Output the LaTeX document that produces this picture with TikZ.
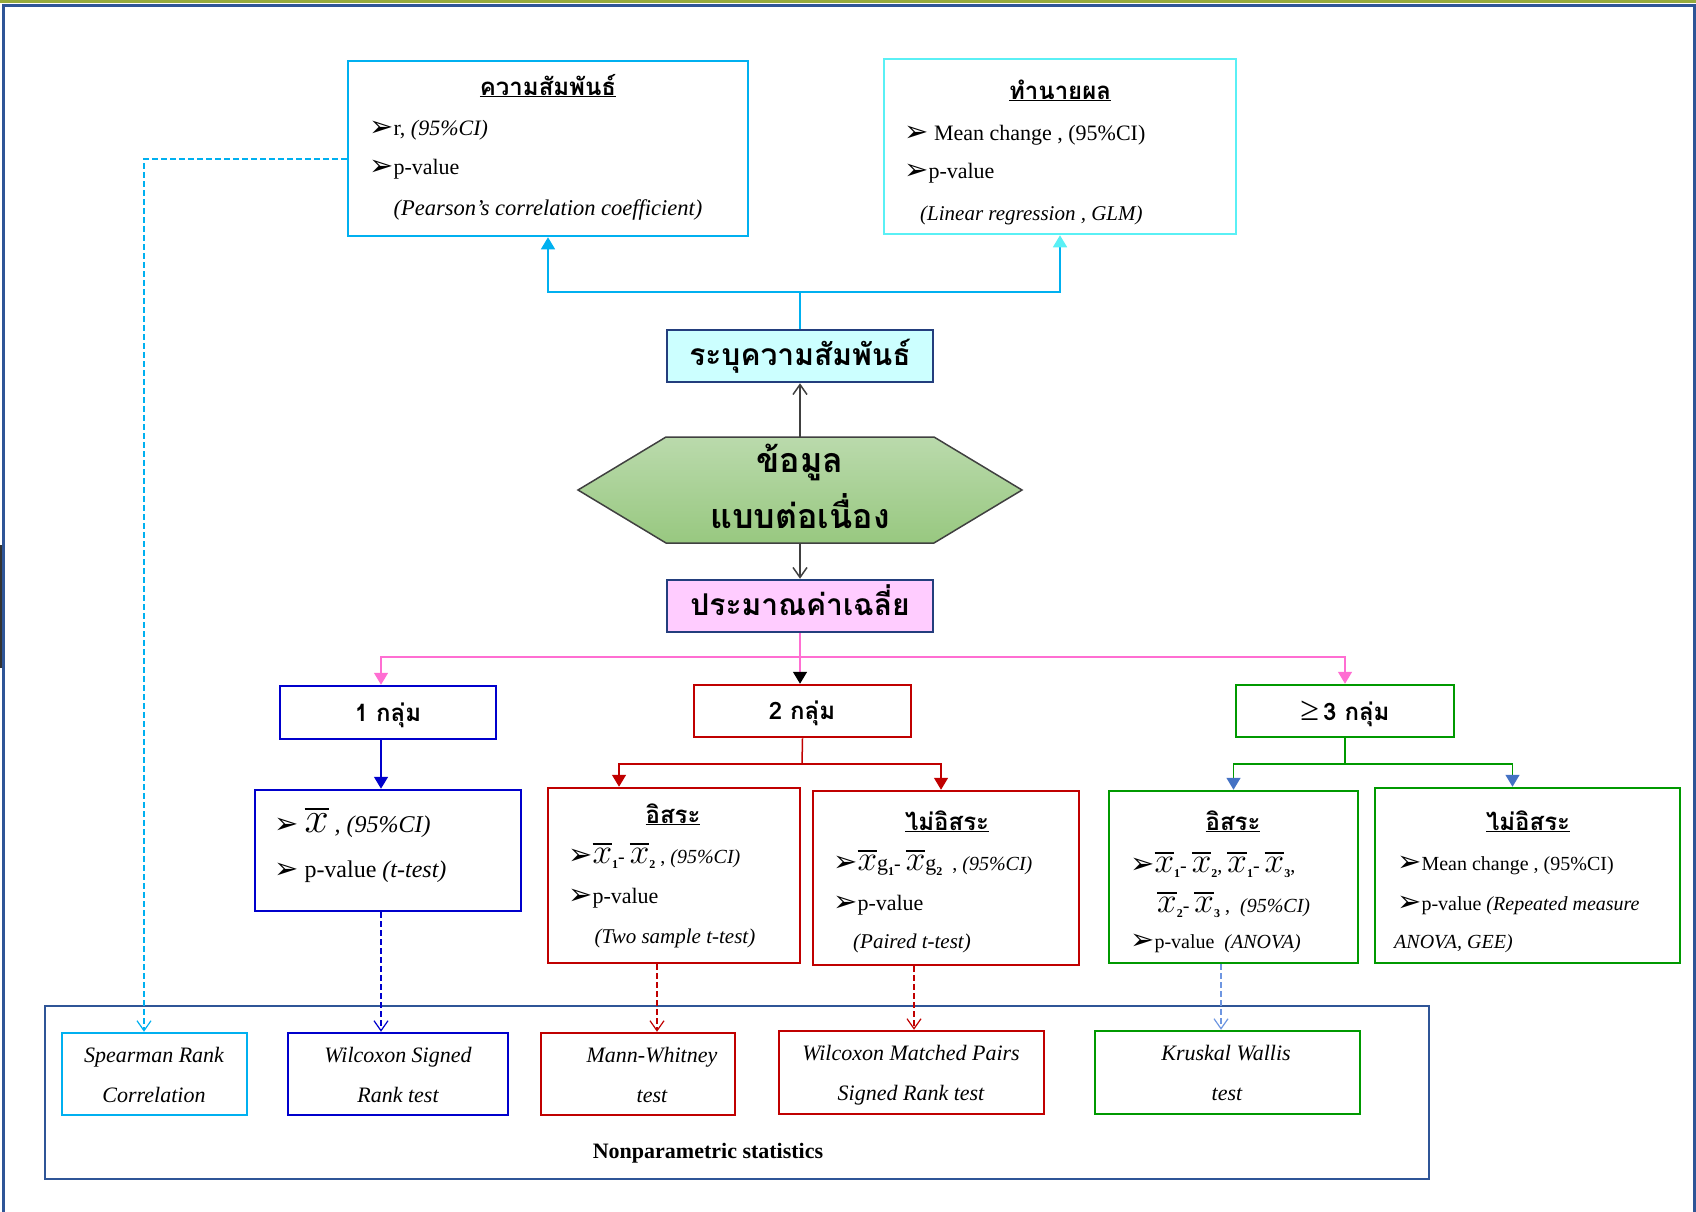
\documentclass[tikz,border=0pt]{standalone}
\usepackage{fontspec}
\usepackage{graphicx}
\setmainfont{Liberation Serif}
\newfontfamily\thai[Script=Thai]{Loma}
\newfontfamily\sym{DejaVu Sans}
\usetikzlibrary{arrows.meta,calc}

\definecolor{cyA}{RGB}{0,176,240}
\definecolor{cyB}{RGB}{90,240,245}
\definecolor{navy}{RGB}{47,85,151}
\definecolor{navyd}{RGB}{35,62,125}
\definecolor{cyfill}{RGB}{204,255,255}
\definecolor{pkfill}{RGB}{255,204,255}
\definecolor{pk}{RGB}{255,110,210}
\definecolor{bl}{RGB}{0,0,204}
\definecolor{rd}{RGB}{192,0,0}
\definecolor{gr}{RGB}{0,153,0}
\definecolor{ab}{RGB}{68,114,196}
\definecolor{kwb}{RGB}{110,150,225}
\definecolor{hexT}{RGB}{186,218,172}
\definecolor{hexB}{RGB}{152,200,128}
\definecolor{olv}{RGB}{150,170,60}
\definecolor{dg}{RGB}{64,64,64}

\newcommand\fs[1]{\fontsize{#1}{#1}\selectfont}
\newcommand\bul{{\sym\fs{29}\raisebox{-1pt}{➢}}}
\newcommand\xb[1]{{\fs{20.74}\setbox0\hbox{\scalebox{#1}{$x$}}\rlap{\rule[\dimexpr\ht0+3pt\relax]{\wd0}{1.8pt}}\box0}}
\newcommand\sbs[1]{\raisebox{-5pt}{\fs{12}\bfseries #1}}

\begin{document}
\begin{tikzpicture}[x=1pt,y=-1pt,
  bx/.style={draw=#1,line width=2.5pt,inner sep=0pt},
  tx/.style={inner sep=0pt,anchor=base west},
  tc/.style={inner sep=0pt,anchor=base},
  th/.style={font=\thai\bfseries\fs{24}},
  ftri/.style={-{Triangle[width=14pt,length=12pt]}},
  obarb/.style={-{Straight Barb[width=14pt,length=10pt]}},
  dsh/.style={dash pattern=on 6pt off 3pt,line width=1.2pt,obarb}
]
\useasboundingbox (0,0) rectangle (1696,1211);
% frame
\draw[olv,line width=3pt] (0,1.5) -- (1696,1.5);
\draw[navy,line width=3pt] (3,1214) -- (3,5) -- (1694,5) -- (1694,1214);
\fill[black!80] (0,545) rectangle (2,668);

% ---------- top boxes ----------
\node[bx=cyA,minimum width=400pt,minimum height=175pt] (rel) at (548,148.5) {};
\node[tc,th] (relT) at (548,95) {\underline{ความสัมพันธ์}};
\node[tx,font=\fs{22}] (relA) at (369,135) {\bul r, \textit{(95\%CI)}};
\node[tx,font=\fs{22}] (relB) at (369,174) {\bul p-value};
\node[tc,font=\itshape\fs{22.5}] (relC) at (548,215) {(Pearson's correlation coefficient)};

\node[bx=cyB,minimum width=352pt,minimum height=175pt] (pred) at (1060,146.5) {};
\node[tc,th] (predT) at (1060,99) {\underline{ทำนายผล}};
\node[tx,font=\fs{22}] (predA) at (904,140) {\bul\ Mean change , (95\%CI)};
\node[tx,font=\fs{22}] (predB) at (904,178) {\bul p-value};
\node[tx,font=\itshape\fs{21}] (predC) at (920,220) {(Linear regression , GLM)};

% ---------- centre column ----------
\node[draw=navyd,fill=cyfill,line width=2.5pt,minimum width=266pt,minimum height=52pt,inner sep=0pt] (ident) at (800,356) {};
\node[tc,font=\thai\bfseries\fs{30}] (identT) at (800,365) {ระบุความสัมพันธ์};

\shade[top color=hexT,bottom color=hexB] (578,490) -- (666,437) -- (934,437) -- (1022,490) -- (934,543) -- (666,543) -- cycle;
\draw[dg,line width=1.5pt] (578,490) -- (666,437) -- (934,437) -- (1022,490) -- (934,543) -- (666,543) -- cycle;
\node[inner sep=0pt,minimum width=444pt,minimum height=106pt] (hex) at (800,490) {};
\node[tc,font=\thai\bfseries\fs{34}] (hexA) at (800,472) {ข้อมูล};
\node[tc,font=\thai\bfseries\fs{34}] (hexB) at (800,528) {แบบต่อเนื่อง};

\node[draw=navyd,fill=pkfill,line width=2.5pt,minimum width=266pt,minimum height=52pt,inner sep=0pt] (est) at (800,606) {};
\node[tc,font=\thai\bfseries\fs{30}] (estT) at (800,615) {ประมาณค่าเฉลี่ย};

% ---------- group boxes ----------
\node[bx=bl,minimum width=216pt,minimum height=53pt] (g1) at (388,712.5) {};
\node[tc,th] (g1T) at (388,721) {1 กลุ่ม};
\node[bx=rd,minimum width=217pt,minimum height=52pt] (g2) at (802.5,711) {};
\node[tc,th] (g2T) at (802,719) {2 กลุ่ม};
\node[bx=gr,minimum width=218pt,minimum height=52pt] (g3) at (1345,711) {};
\node[tc,th] (g3T) at (1345,720) {{\rmfamily\mdseries\fs{34}≥}\,3 กลุ่ม};

% ---------- detail boxes ----------
\node[bx=bl,minimum width=266pt,minimum height=121pt] (mean1) at (388,850.5) {};
\node[tx,font=\fs{24}] (m1A) at (274,832) {\bul\ \xb{2.1}\ \textit{, (95\%CI)}};
\node[tx,font=\fs{24}] (m1B) at (274,877) {\bul\ p-value \textit{(t-test)}};

\node[bx=rd,minimum width=252pt,minimum height=175pt] (ind2) at (674,875.5) {};
\node[tc,th] (i2T) at (673,823) {\underline{อิสระ}};
\node[tx,font=\fs{20}] (i2A) at (568,863) {\bul\xb{1.7}\sbs{1}- \xb{1.7}\sbs{2} , \textit{(95\%CI)}};
\node[tx,font=\fs{22}] (i2B) at (568,903) {\bul p-value};
\node[tc,font=\itshape\fs{21}] (i2C) at (675,943) {(Two sample t-test)};

\node[bx=rd,minimum width=266pt,minimum height=174pt] (dep2) at (946,878) {};
\node[tc,th] (d2T) at (947,830) {\underline{ไม่อิสระ}};
\node[tx,font=\fs{20}] (d2A) at (833,870) {\bul\xb{1.7}{\fs{22}g}\sbs{1}- \xb{1.7}{\fs{22}g}\sbs{2}\ \ , \textit{(95\%CI)}};
\node[tx,font=\fs{22}] (d2B) at (833,910) {\bul p-value};
\node[tx,font=\itshape\fs{21}] (d2C) at (853,948) {(Paired t-test)};

\node[bx=gr,minimum width=249pt,minimum height=172pt] (ind3) at (1233.5,877) {};
\node[tc,th] (i3T) at (1233,830) {\underline{อิสระ}};
\node[tx,font=\fs{20}] (i3A) at (1130,872) {\bul\xb{1.7}\sbs{1}- \xb{1.7}\sbs{2}, \xb{1.7}\sbs{1}- \xb{1.7}\sbs{3},};
\node[tx,font=\fs{20}] (i3B) at (1157,912) {\xb{1.7}\sbs{2}- \xb{1.7}\sbs{3} ,\ \ \textit{(95\%CI)}};
\node[tx,font=\fs{20}] (i3C) at (1130,948) {\bul p-value\ \ \textit{(ANOVA)}};

\node[bx=gr,minimum width=305pt,minimum height=175pt] (dep3) at (1527.5,875.5) {};
\node[tc,th] (d3T) at (1528,830) {\underline{ไม่อิสระ}};
\node[tx,font=\fs{20}] (d3A) at (1397,870) {\bul Mean change , (95\%CI)};
\node[tx,font=\fs{20}] (d3B) at (1397,910) {\bul p-value \textit{(Repeated measure}};
\node[tx,font=\itshape\fs{20}] (d3C) at (1394,948) {ANOVA, GEE)};

% ---------- nonparametric ----------
\node[draw=navy,line width=2.5pt,inner sep=0pt,minimum width=1384pt,minimum height=173pt] (np) at (737,1092.5) {};
\node[tc,font=\bfseries\fs{22}] (npT) at (708,1158) {Nonparametric statistics};

\node[bx=cyA,minimum width=185pt,minimum height=82pt] (sp) at (154.5,1074) {};
\node[tc,font=\itshape\fs{22}] (spA) at (154,1062) {Spearman Rank};
\node[tc,font=\itshape\fs{22}] (spB) at (154,1102) {Correlation};

\node[bx=bl,minimum width=220pt,minimum height=82pt] (ws) at (398,1074) {};
\node[tc,font=\itshape\fs{22}] (wsA) at (398,1062) {Wilcoxon Signed};
\node[tc,font=\itshape\fs{22}] (wsB) at (398,1102) {Rank test};

\node[bx=rd,minimum width=194pt,minimum height=82pt] (mw) at (638,1074) {};
\node[tc,font=\itshape\fs{22}] (mwA) at (652,1062) {Mann-Whitney};
\node[tc,font=\itshape\fs{22}] (mwB) at (652,1102) {test};

\node[bx=rd,minimum width=265pt,minimum height=83pt] (wm) at (911.5,1072.5) {};
\node[tc,font=\itshape\fs{22}] (wmA) at (911,1060) {Wilcoxon Matched Pairs};
\node[tc,font=\itshape\fs{22}] (wmB) at (911,1100) {Signed Rank test};

\node[bx=gr,minimum width=265pt,minimum height=83pt] (kw) at (1227.5,1072.5) {};
\node[tc,font=\itshape\fs{22}] (kwA) at (1226,1060) {Kruskal Wallis};
\node[tc,font=\itshape\fs{22}] (kwB) at (1227,1100) {test};

% ---------- connectors ----------
\coordinate (topj) at (800,292);
\draw[cyA,line width=1.5pt] (ident.north) -- (topj);
\draw[cyA,line width=1.5pt,ftri] (topj) -| (rel.south);
\draw[cyA,line width=1.5pt,-{Triangle[width=14pt,length=12pt,color=cyB,fill=cyB]}] (topj) -| (pred.south);

\draw[dg,line width=1.5pt,obarb] (hex.north) -- (ident.south);
\draw[dg,line width=1.5pt,obarb] (hex.south) -- (est.north);

\coordinate (pj) at (800,657);
\draw[pk,line width=1.5pt] (est.south) -- (pj);
\draw[pk,line width=1.5pt,ftri] (pj) -| ([xshift=-7pt]g1.north);
\draw[pk,line width=1.5pt,ftri] (pj) -| (g3.north);
\draw[pk,line width=1.5pt,-{Triangle[width=14pt,length=12pt,color=black,fill=black]}] (pj) -- (pj |- g2.north);

\draw[bl,line width=1.5pt,ftri] ([xshift=-7pt]g1.south) -- ([xshift=-7pt]mean1.north);

\coordinate (rj) at (802,764);
\draw[rd,line width=1.5pt] (g2.south) -- (rj);
\draw[rd,line width=1.5pt,ftri] (rj) -| ([xshift=-55pt]ind2.north);
\draw[rd,line width=1.5pt,ftri] (rj) -| ([xshift=-5pt]dep2.north);

\coordinate (gj) at (1345,764);
\draw[gr,line width=1.5pt] (g3.south) -- (gj);
\draw[gr,line width=1.5pt,-{Triangle[width=14pt,length=12pt,color=ab,fill=ab]}] (gj) -| (ind3.north);
\draw[gr,line width=1.5pt,-{Triangle[width=14pt,length=12pt,color=ab,fill=ab]}] (gj) -| ([xshift=-15pt]dep3.north);

% dashed to nonparametric tests
\draw[cyA,dsh] ([yshift=-10.5pt]rel.west) -| ([xshift=-10.5pt]sp.north);
\draw[bl,dsh] ([xshift=-7pt]mean1.south) -- ([xshift=-17pt]ws.north);
\draw[rd,dsh] ([xshift=-17pt]ind2.south) -- ([xshift=19pt]mw.north);
\draw[rd,dsh] ([xshift=-32pt]dep2.south) -- ([xshift=2.5pt]wm.north);
\draw[kwb,dsh] ([xshift=-12.5pt]ind3.south) -- ([xshift=-6.5pt]kw.north);
\end{tikzpicture}
\end{document}
